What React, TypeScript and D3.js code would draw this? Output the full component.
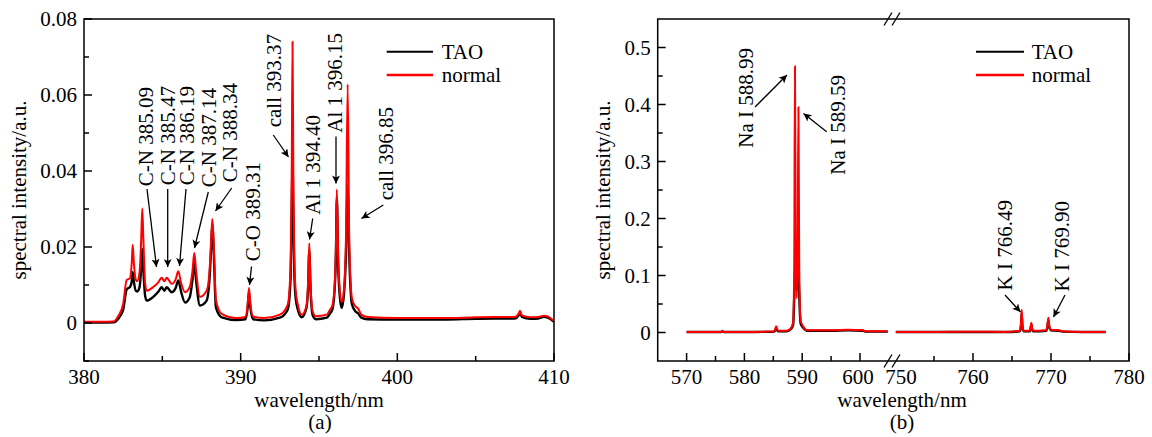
import React from "react";
import * as d3 from "d3";

// ---------- Panel (a) data ----------
const waveA = [380.0, 381.0, 381.9, 382.2, 382.5, 382.72, 382.94, 383.05, 383.11, 383.18, 383.3, 383.4, 383.55, 383.65, 383.72, 383.79, 383.9, 384.0, 384.4, 384.74, 384.96, 385.13, 385.28, 385.6, 385.85, 386.02, 386.2, 386.45, 386.75, 386.92, 387.04, 387.16, 387.4, 387.83, 388.0, 388.12, 388.19, 388.27, 388.42, 388.79, 389.74, 390.3, 390.45, 390.53, 390.62, 390.8, 391.5, 392.5, 393.0, 393.12, 393.2, 393.26, 393.31, 393.36, 393.42, 393.5, 393.65, 393.9, 394.2, 394.3, 394.38, 394.46, 394.6, 394.8, 395.5, 395.7, 395.85, 396.0, 396.08, 396.14, 396.22, 396.35, 396.45, 396.6, 396.72, 396.83, 396.93, 397.1, 397.3, 397.5, 397.7, 398.1, 400.0, 403.0, 405.0, 407.5, 407.75, 407.83, 407.95, 408.5, 409.0, 409.35, 409.6, 410.0];
const normalA = [0.0003, 0.0003, 0.0004, 0.0019, 0.005, 0.0113, 0.0118, 0.016, 0.0206, 0.016, 0.0115, 0.011, 0.0135, 0.022, 0.0301, 0.022, 0.0105, 0.0085, 0.0094, 0.0107, 0.0119, 0.011, 0.0119, 0.0103, 0.0115, 0.0136, 0.0105, 0.0081, 0.0095, 0.0135, 0.0184, 0.0135, 0.0069, 0.0085, 0.013, 0.022, 0.0274, 0.022, 0.006, 0.0024, 0.0013, 0.0016, 0.005, 0.0092, 0.005, 0.0017, 0.0013, 0.0022, 0.0048, 0.009, 0.018, 0.04, 0.074, 0.04, 0.018, 0.009, 0.0048, 0.0022, 0.0045, 0.01, 0.021, 0.01, 0.003, 0.0018, 0.0022, 0.0035, 0.0045, 0.01, 0.02, 0.0351, 0.018, 0.0075, 0.0055, 0.009, 0.022, 0.0628, 0.022, 0.0065, 0.0045, 0.0038, 0.0022, 0.0016, 0.0013, 0.0013, 0.0015, 0.0016, 0.0025, 0.0032, 0.002, 0.0015, 0.0016, 0.0019, 0.0017, 0.0005];
const taoA = [0.0001, 0.0001, 0.0002, 0.0012, 0.0035, 0.0088, 0.0095, 0.011, 0.0134, 0.011, 0.0085, 0.0083, 0.0095, 0.0145, 0.0195, 0.014, 0.0072, 0.0059, 0.0068, 0.0082, 0.0094, 0.0085, 0.0094, 0.0081, 0.0092, 0.0112, 0.0082, 0.0054, 0.0068, 0.0112, 0.016, 0.011, 0.0046, 0.0059, 0.011, 0.02, 0.0261, 0.02, 0.0041, 0.0015, 0.0008, 0.001, 0.0042, 0.0082, 0.0042, 0.001, 0.0007, 0.0014, 0.0035, 0.007, 0.014, 0.028, 0.042, 0.028, 0.014, 0.007, 0.0035, 0.0015, 0.004, 0.009, 0.019, 0.009, 0.002, 0.001, 0.0014, 0.0025, 0.0035, 0.009, 0.018, 0.033, 0.016, 0.006, 0.004, 0.008, 0.018, 0.036, 0.018, 0.005, 0.0032, 0.0025, 0.0014, 0.001, 0.0009, 0.0009, 0.0011, 0.0012, 0.002, 0.0028, 0.0016, 0.0011, 0.0012, 0.0016, 0.0014, 0.0003];

// ---------- Panel (b) data ----------
const waveB1 = [570, 576.0, 576.2, 576.4, 580, 585.2, 585.5, 585.8, 587, 587.6, 588.2, 588.45, 588.62, 588.75, 588.88, 589.05, 589.2, 589.35, 589.48, 589.62, 589.75, 590.2, 590.8, 595, 598, 600.5, 601, 604.8];
const normalB1 = [0.001, 0.001, 0.003, 0.001, 0.001, 0.002, 0.011, 0.003, 0.003, 0.004, 0.01, 0.02, 0.12, 0.467, 0.15, 0.06, 0.13, 0.395, 0.13, 0.04, 0.02, 0.01, 0.004, 0.004, 0.005, 0.004, 0.002, 0.002];
const taoB1 = [0.0008, 0.0008, 0.002, 0.0008, 0.0008, 0.0015, 0.008, 0.002, 0.002, 0.003, 0.008, 0.015, 0.06, 0.105, 0.09, 0.075, 0.085, 0.1, 0.07, 0.03, 0.015, 0.008, 0.003, 0.003, 0.004, 0.003, 0.0015, 0.0015];
const waveB2 = [750.1, 755, 760, 764, 766.0, 766.15, 766.24, 766.33, 766.5, 767.3, 767.42, 767.48, 767.55, 767.7, 769.4, 769.55, 769.66, 769.77, 770.0, 771.0, 771.5, 774, 777];
const normalB2 = [0.001, 0.001, 0.0015, 0.001, 0.003, 0.015, 0.04, 0.015, 0.003, 0.003, 0.012, 0.017, 0.01, 0.003, 0.004, 0.014, 0.026, 0.012, 0.005, 0.004, 0.002, 0.001, 0.001];
const taoB2 = [0.0008, 0.0008, 0.001, 0.0008, 0.002, 0.012, 0.034, 0.012, 0.002, 0.002, 0.01, 0.014, 0.008, 0.002, 0.003, 0.011, 0.022, 0.01, 0.004, 0.003, 0.0015, 0.0008, 0.0008];

// ---------- ticks ----------
const xTicksA = [380, 390, 400, 410];
const xMinorA = [385, 395, 405];
const yTicksA = [0, 0.02, 0.04, 0.06, 0.08];
const yTickLabelsA = ["0", "0.02", "0.04", "0.06", "0.08"];
const yMinorA = [-0.01, 0.01, 0.03, 0.05, 0.07];
const xTicksB1 = [570, 580, 590, 600];
const xMinorB1 = [575, 585, 595];
const xTicksB2 = [750, 760, 770, 780];
const xMinorB2 = [755, 765, 775];
const yTicksB = [0, 0.1, 0.2, 0.3, 0.4, 0.5];
const yTickLabelsB = ["0", "0.1", "0.2", "0.3", "0.4", "0.5"];
const yMinorB = [0.05, 0.15, 0.25, 0.35, 0.45];

// ---------- annotations ----------
const labelsA = [
  { text: "C-N 385.09", w: 385.09 },
  { text: "C-N 385.47", w: 385.47 },
  { text: "C-N 386.19", w: 386.19 },
  { text: "C-N 387.14", w: 387.14 },
  { text: "C-N 388.34", w: 388.34 },
  { text: "C-O 389.31", w: 389.31 },
  { text: "call 393.37", w: 393.37 },
  { text: "Al 1 394.40", w: 394.4 },
  { text: "Al 1 396.15", w: 396.15 },
  { text: "call 396.85", w: 396.85 },
];
const labelsB = [
  { text: "Na I 588.99", w: 588.99 },
  { text: "Na I 589.59", w: 589.59 },
  { text: "K I 766.49", w: 766.49 },
  { text: "K I 769.90", w: 769.9 },
];

// layout-only positions for label columns / arrows (pixels)
const labelPosA = [
  { cx: 146, top: 87, a: [147, 189, 156.5, 267] },
  { cx: 168, top: 86, a: [167.7, 189, 167.7, 267] },
  { cx: 187, top: 86, a: [186, 189, 179.5, 266] },
  { cx: 209, top: 88, a: [208.3, 192, 194.5, 248] },
  { cx: 230, top: 83, a: [231.7, 188, 215.5, 211] },
  { cx: 253, top: 162, a: [251.5, 266.5, 249.5, 285] },
  { cx: 274, top: 34, a: [273.3, 135, 288.5, 157] },
  { cx: 313, top: 115, a: [312.7, 218.5, 309.5, 239.5] },
  { cx: 335, top: 33, a: [336, 136.5, 336, 183.5] },
  { cx: 386, top: 107, a: [383.3, 205, 361.5, 218.5] },
];
const labelPosB = [
  { cx: 746, top: 48, a: [755, 107, 787, 75] },
  { cx: 838, top: 75, a: [826.7, 131.7, 803.5, 113.5] },
  { cx: 1005, top: 200, a: [1005, 295, 1020.5, 312] },
  { cx: 1062, top: 201, a: [1065, 295, 1053.5, 317] },
];

const FONT = "'Liberation Serif', 'Times New Roman', serif";
const FS = 21;
const RED = "#ff0000";
const TICK_BASE = 383.5;
const TITLE_BASE = 406.5;
const CAPTION_BASE = 429;

function makeSeries(w: number[], v: number[]) {
  return w.map((x, i) => [x, v[i]] as [number, number]);
}

export default function App() {
  const top = 19, bottom = 361;
  // panel a
  const xA = d3.scaleLinear().domain([380, 410]).range([84, 554]);
  const yA = d3.scaleLinear().domain([-0.01, 0.08]).range([bottom, top]);
  // panel b (broken axis)
  const xB1 = d3.scaleLinear().domain([565, 605.71]).range([657.7, 893]);
  const xB2 = d3.scaleLinear().domain([749.74, 780]).range([893, 1129]);
  const yB = d3.scaleLinear().domain([-0.05, 0.55]).range([bottom, top]);

  const lineA = d3.line<[number, number]>().x((d) => xA(d[0])).y((d) => yA(d[1])).curve(d3.curveMonotoneX);
  const lineB1 = d3.line<[number, number]>().x((d) => xB1(d[0])).y((d) => yB(d[1])).curve(d3.curveMonotoneX);
  const lineB2 = d3.line<[number, number]>().x((d) => xB2(d[0])).y((d) => yB(d[1])).curve(d3.curveMonotoneX);

  const textStyle = { fontFamily: FONT, fontSize: FS, fill: "#000" } as const;

  const frame = (x0: number, x1: number) => (
    <rect x={x0} y={top} width={x1 - x0} height={bottom - top} fill="none" stroke="#000" strokeWidth={1.5} />
  );

  const xTickMarks = (scale: any, ticks: number[], len: number) =>
    ticks.map((t) => (
      <line key={"xt" + t + len} x1={scale(t)} x2={scale(t)} y1={bottom} y2={bottom - len} stroke="#000" strokeWidth={1.5} />
    ));
  const yTickMarks = (scale: any, ticks: number[], x0: number, len: number) =>
    ticks.map((t) => (
      <line key={"yt" + t + len} x1={x0} x2={x0 + len} y1={scale(t)} y2={scale(t)} stroke="#000" strokeWidth={1.5} />
    ));

  const arrow = (a: number[], key: string) => (
    <line key={key} x1={a[0]} y1={a[1]} x2={a[2]} y2={a[3]} stroke="#000" strokeWidth={1.3} markerEnd="url(#arrowhead)" />
  );

  const rotLabel = (text: string, cx: number, topY: number, key: string) => (
    <text key={key} transform={`translate(${cx + 7},${topY}) rotate(-90)`} textAnchor="end" style={textStyle}>
      {text}
    </text>
  );

  const breakX = 893;
  const breakMark = (y: number, key: string) => (
    <g key={key}>
      <line x1={breakX - 9} y1={y + 6.5} x2={breakX - 1} y2={y - 6.5} stroke="#000" strokeWidth={1.3} />
      <line x1={breakX - 1} y1={y + 6.5} x2={breakX + 7} y2={y - 6.5} stroke="#000" strokeWidth={1.3} />
    </g>
  );

  // small label nudges next to the axis break (layout only)
  const labelShiftB1 = (t: number) => (t === 600 ? -2 : 0);
  const labelShiftB2 = (t: number) => (t === 750 ? 6 : 0);

  return (
    <svg width={1152} height={437} style={{ position: "absolute", left: 0, top: 0, background: "#fff" }}>
      <defs>
        <marker id="arrowhead" viewBox="0 0 10 10" refX="10" refY="5" markerWidth="10" markerHeight="8" markerUnits="userSpaceOnUse" orient="auto">
          <path d="M0,0 L10,5 L0,10 L2.5,5 z" fill="#000" />
        </marker>
        <clipPath id="clipA">
          <rect x={84} y={top} width={470} height={bottom - top} />
        </clipPath>
      </defs>
      <rect x={0} y={0} width={1152} height={437} fill="#fff" />

      {/* ---------------- Panel (a) ---------------- */}
      <g clipPath="url(#clipA)">
        <path d={lineA(makeSeries(waveA, taoA)) || ""} fill="none" stroke="#000" strokeWidth={2.4} />
        <path d={lineA(makeSeries(waveA, normalA)) || ""} fill="none" stroke={RED} strokeWidth={2} />
      </g>
      {frame(84, 554)}
      {xTickMarks(xA, xTicksA, 8)}
      {xTickMarks(xA, xMinorA, 5)}
      {yTickMarks(yA, yTicksA, 84, 8)}
      {yTickMarks(yA, yMinorA, 84, 5)}
      {xTicksA.map((t) => (
        <text key={"xl" + t} x={xA(t)} y={TICK_BASE} textAnchor="middle" style={textStyle}>{t}</text>
      ))}
      {yTicksA.map((t, i) => (
        <text key={"yl" + t} x={77} y={yA(t) + 7} textAnchor="end" style={textStyle}>{yTickLabelsA[i]}</text>
      ))}
      <text x={319} y={TITLE_BASE} textAnchor="middle" style={textStyle}>wavelength/nm</text>
      <text x={320} y={CAPTION_BASE} textAnchor="middle" style={textStyle}>(a)</text>
      <text transform="translate(26,190) rotate(-90)" textAnchor="middle" style={textStyle}>spectral intensity/a.u.</text>
      {/* legend a */}
      <line x1={386.7} x2={433} y1={51.7} y2={51.7} stroke="#000" strokeWidth={2} />
      <line x1={386.7} x2={433} y1={75} y2={75} stroke={RED} strokeWidth={2.4} />
      <text x={441.7} y={58.5} style={textStyle}>TAO</text>
      <text x={441.7} y={81.5} style={textStyle}>normal</text>
      {labelsA.map((l, i) => rotLabel(l.text, labelPosA[i].cx, labelPosA[i].top, "la" + i))}
      {labelsA.map((l, i) => arrow(labelPosA[i].a, "aa" + i))}

      {/* ---------------- Panel (b) ---------------- */}
      <path d={lineB1(makeSeries(waveB1, taoB1)) || ""} fill="none" stroke="#000" strokeWidth={2.4} />
      <path d={lineB2(makeSeries(waveB2, taoB2)) || ""} fill="none" stroke="#000" strokeWidth={2.4} />
      <path d={lineB1(makeSeries(waveB1, normalB1)) || ""} fill="none" stroke={RED} strokeWidth={2} />
      <path d={lineB2(makeSeries(waveB2, normalB2)) || ""} fill="none" stroke={RED} strokeWidth={2} />
      {frame(657.7, 1129)}
      {xTickMarks(xB1, xTicksB1, 8)}
      {xTickMarks(xB1, xMinorB1, 5)}
      {xTickMarks(xB2, xTicksB2.filter((t) => t > 750), 8)}
      {xTickMarks(xB2, xMinorB2, 5)}
      {yTickMarks(yB, yTicksB, 657.7, 8)}
      {yTickMarks(yB, yMinorB, 657.7, 5)}
      {xTicksB1.map((t) => (
        <text key={"xb1" + t} x={xB1(t) + labelShiftB1(t)} y={TICK_BASE} textAnchor="middle" style={textStyle}>{t}</text>
      ))}
      {xTicksB2.map((t) => (
        <text key={"xb2" + t} x={xB2(t) + labelShiftB2(t)} y={TICK_BASE} textAnchor="middle" style={textStyle}>{t}</text>
      ))}
      {yTicksB.map((t, i) => (
        <text key={"ybl" + t} x={650.7} y={yB(t) + 7} textAnchor="end" style={textStyle}>{yTickLabelsB[i]}</text>
      ))}
      {breakMark(top, "bt")}
      {breakMark(bottom, "bb")}
      <text x={902} y={TITLE_BASE} textAnchor="middle" style={textStyle}>wavelength/nm</text>
      <text x={902} y={CAPTION_BASE} textAnchor="middle" style={textStyle}>(b)</text>
      <text transform="translate(610,190) rotate(-90)" textAnchor="middle" style={textStyle}>spectral intensity/a.u.</text>
      {/* legend b */}
      <line x1={976} x2={1024} y1={51.7} y2={51.7} stroke="#000" strokeWidth={2} />
      <line x1={976} x2={1024} y1={75} y2={75} stroke={RED} strokeWidth={2.4} />
      <text x={1031.7} y={58.5} style={textStyle}>TAO</text>
      <text x={1031.7} y={81.5} style={textStyle}>normal</text>
      {labelsB.map((l, i) => rotLabel(l.text, labelPosB[i].cx, labelPosB[i].top, "lb" + i))}
      {labelsB.map((l, i) => arrow(labelPosB[i].a, "ab" + i))}
    </svg>
  );
}
